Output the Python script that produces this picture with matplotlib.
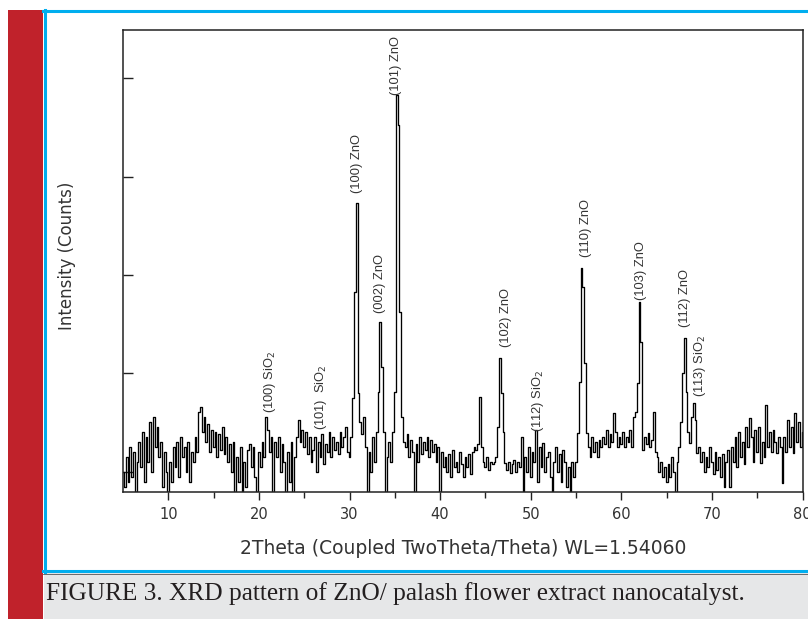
import numpy as np
import matplotlib
matplotlib.use("Agg")
import matplotlib.pyplot as plt
from matplotlib.patches import Rectangle
from matplotlib.lines import Line2D

# ---------------- data ----------------
two_theta_start = 5.0
two_theta_step = 0.2
# intensity (arbitrary counts), 5 samples per degree: x.0, x.2, x.4, x.6, x.8
intensity = [
    20, 5, 35, 10, 45,        # 5
    15, 40, 0, 30, 50,        # 6
    25, 60, 10, 55, 30,       # 7
    70, 20, 75, 45, 65,       # 8
    35, 50, 5, 40, 20,        # 9
    0, 30, 10, 45, 25,        # 10
    50, 15, 55, 35, 45,       # 11
    20, 50, 10, 40, 30,       # 12
    55, 40, 80, 85, 60,       # 13
    75, 50, 68, 40, 62,       # 14
    45, 60, 35, 58, 42,       # 15
    65, 38, 55, 30, 48,       # 16
    20, 50, 0, 35, 10,        # 17
    45, 0, 30, 5, 42,         # 18
    48, 25, 45, 15, 0,        # 19
    40, 25, 50, 35, 75,       # 20
    62, 40, 55, 0, 50,        # 21
    35, 55, 20, 48, 30,       # 22
    0, 40, 10, 50, 0,         # 23
    35, 55, 72, 50, 62,       # 24
    45, 60, 38, 55, 30,       # 25
    42, 55, 20, 50, 35,       # 26
    58, 28, 48, 40, 60,       # 27
    35, 55, 42, 50, 38,       # 28
    60, 45, 55, 65, 40,       # 29
    35, 55, 94, 200, 289,     # 30
    99, 70, 58, 75, 45,       # 31
    0, 40, 20, 55, 30,        # 32
    60, 100, 170, 125, 60,    # 33
    0, 35, 50, 30, 60,        # 34
    100, 397, 367, 180, 75,   # 35
    50, 45, 58, 35, 52,       # 36
    40, 0, 48, 30, 55,        # 37
    38, 50, 42, 55, 35,       # 38
    52, 40, 48, 30, 45,       # 39
    0, 40, 25, 35, 20,        # 40
    38, 15, 42, 25, 30,       # 41
    20, 40, 28, 15, 35,       # 42
    25, 38, 18, 40, 45,       # 43
    42, 48, 95, 45, 30,       # 44
    25, 35, 22, 30, 28,       # 45
    30, 35, 65, 134, 99,      # 46
    60, 29, 22, 30, 19,       # 47
    28, 32, 20, 30, 25,       # 48
    55, 0, 35, 20, 45,        # 49
    15, 40, 30, 62, 10,       # 50
    45, 25, 49, 20, 35,       # 51
    40, 15, 0, 30, 45,        # 52
    20, 38, 10, 42, 30,       # 53
    5, 25, 0, 30, 15,         # 54
    30, 59, 110, 224, 205,    # 55
    129, 59, 45, 35, 55,      # 56
    40, 50, 35, 52, 45,       # 57
    55, 48, 62, 45, 58,       # 58
    50, 79, 60, 45, 55,       # 59
    48, 60, 45, 55, 50,       # 60
    62, 45, 75, 80, 109,      # 61
    190, 150, 42, 55, 48,     # 62
    59, 45, 52, 80, 40,       # 63
    35, 20, 30, 15, 25,       # 64
    10, 28, 15, 35, 20,       # 65
    0, 30, 45, 70, 119,       # 66
    154, 100, 60, 49, 75,     # 67
    89, 72, 39, 45, 30,       # 68
    40, 20, 35, 25, 45,       # 69
    30, 18, 40, 22, 35,       # 70
    15, 38, 5, 30, 42,        # 71
    5, 45, 30, 55, 25,        # 72
    60, 35, 50, 28, 65,       # 73
    45, 74, 55, 30, 62,       # 74
    40, 65, 29, 50, 35,       # 75
    87, 45, 60, 40, 62,       # 76
    50, 39, 55, 45, 9,        # 77
    55, 40, 72, 45, 65,       # 78
    39, 79, 50, 70, 45,       # 79
    60,                       # 80
]

peak_labels = ["(100) SiO$_2$", "(101)  SiO$_2$", "(100) ZnO", "(002) ZnO",
               "(101) ZnO", "(102) ZnO", "(112) SiO$_2$", "(110) ZnO",
               "(103) ZnO", "(112) ZnO", "(113) SiO$_2$"]
peak_label_x = [21.2, 26.8, 30.8, 33.35, 35.1, 47.3, 50.85, 56.1, 62.2, 67.05, 68.7]
peak_label_y = [79, 62, 299, 179, 397, 145, 60, 235, 192, 165, 95]

x_major = [10, 20, 30, 40, 50, 60, 70, 80]
x_minor = [15, 25, 35, 45, 55, 65, 75]
y_ticks = [20, 119, 217, 315, 414]

# ---------------- figure ----------------
W, H = 808, 619
fig = plt.figure(figsize=(W / 100, H / 100), dpi=100)
fig.patch.set_facecolor("white")

def fx(px):
    return px / W

def fy(py):
    return 1 - py / H

# page decorations
red = "#c0222b"
blue = "#00aeef"
fig.patches.append(Rectangle((fx(8), 0), fx(43) - fx(8), fy(10), transform=fig.transFigure,
                             facecolor=red, edgecolor="none", zorder=0))
fig.patches.append(Rectangle((fx(44), 0), 1 - fx(44), fy(572), transform=fig.transFigure,
                             facecolor="#e6e7e8", edgecolor="none", zorder=0))
fig.lines.append(Line2D([fx(44.5), fx(44.5)], [fy(572), fy(10)], transform=fig.transFigure,
                        color=blue, lw=2.2))
fig.lines.append(Line2D([fx(43), 1], [fy(11), fy(11)], transform=fig.transFigure,
                        color=blue, lw=2.2))
fig.lines.append(Line2D([fx(43), 1], [fy(571), fy(571)], transform=fig.transFigure,
                        color=blue, lw=2.2))
fig.lines.append(Line2D([fx(43), 1], [fy(573.5), fy(573.5)], transform=fig.transFigure,
                        color="#555555", lw=0.6))

ax = fig.add_axes([fx(123), fy(492), fx(802.5) - fx(123), (492 - 30) / H])
ax.set_facecolor("white")

x = [two_theta_start + two_theta_step * i for i in range(len(intensity))]
ax.plot(x, intensity, color="black", lw=0.95, drawstyle="steps-mid")

ax.set_xlim(5, 80)
ax.set_ylim(0, 462)

for s in ax.spines.values():
    s.set_color("#222222")
    s.set_linewidth(1.1)

ax.set_xticks(x_major)
ax.set_xticks(x_minor, minor=True)
ax.set_xticklabels([str(v) for v in x_major])
ax.tick_params(axis="x", which="major", direction="out", length=6, width=1.0,
               colors="#222222", labelsize=10.5, pad=5, labelcolor="#333333")
ax.tick_params(axis="x", which="minor", direction="out", length=4, width=1.0, colors="#222222")
ax.set_yticks(y_ticks)
ax.set_yticklabels([])
ax.tick_params(axis="y", which="major", direction="in", length=7, width=1.0, colors="#222222")

for lab in ax.get_xticklabels():
    lab.set_fontfamily("DejaVu Sans")

ax.set_xlabel("2Theta (Coupled TwoTheta/Theta) WL=1.54060", fontsize=13.5,
              family="DejaVu Sans", color="#333333")
ax.xaxis.set_label_coords(0.5, -(548 - 492) / 462)
ax.xaxis.label.set_va("center")
ax.set_ylabel("Intensity (Counts)", fontsize=12, family="DejaVu Sans", color="#333333")
ax.yaxis.set_label_coords((67 - 123) / 679.5, (492 - 256) / 462)
ax.yaxis.label.set_va("center")
ax.yaxis.label.set_ha("center")

for t, px_, py_ in zip(peak_labels, peak_label_x, peak_label_y):
    ax.text(px_, py_, t, rotation=90, ha="center", va="bottom", fontsize=9.3,
            family="Liberation Sans", color="#333333", clip_on=False)

fig.text(fx(46), fy(594), "FIGURE 3. XRD pattern of ZnO/ palash flower extract nanocatalyst.",
         family="Liberation Serif", fontsize=18.3, color="#231f20", ha="left", va="center")

fig.savefig("out.png", dpi=100, facecolor="white")
